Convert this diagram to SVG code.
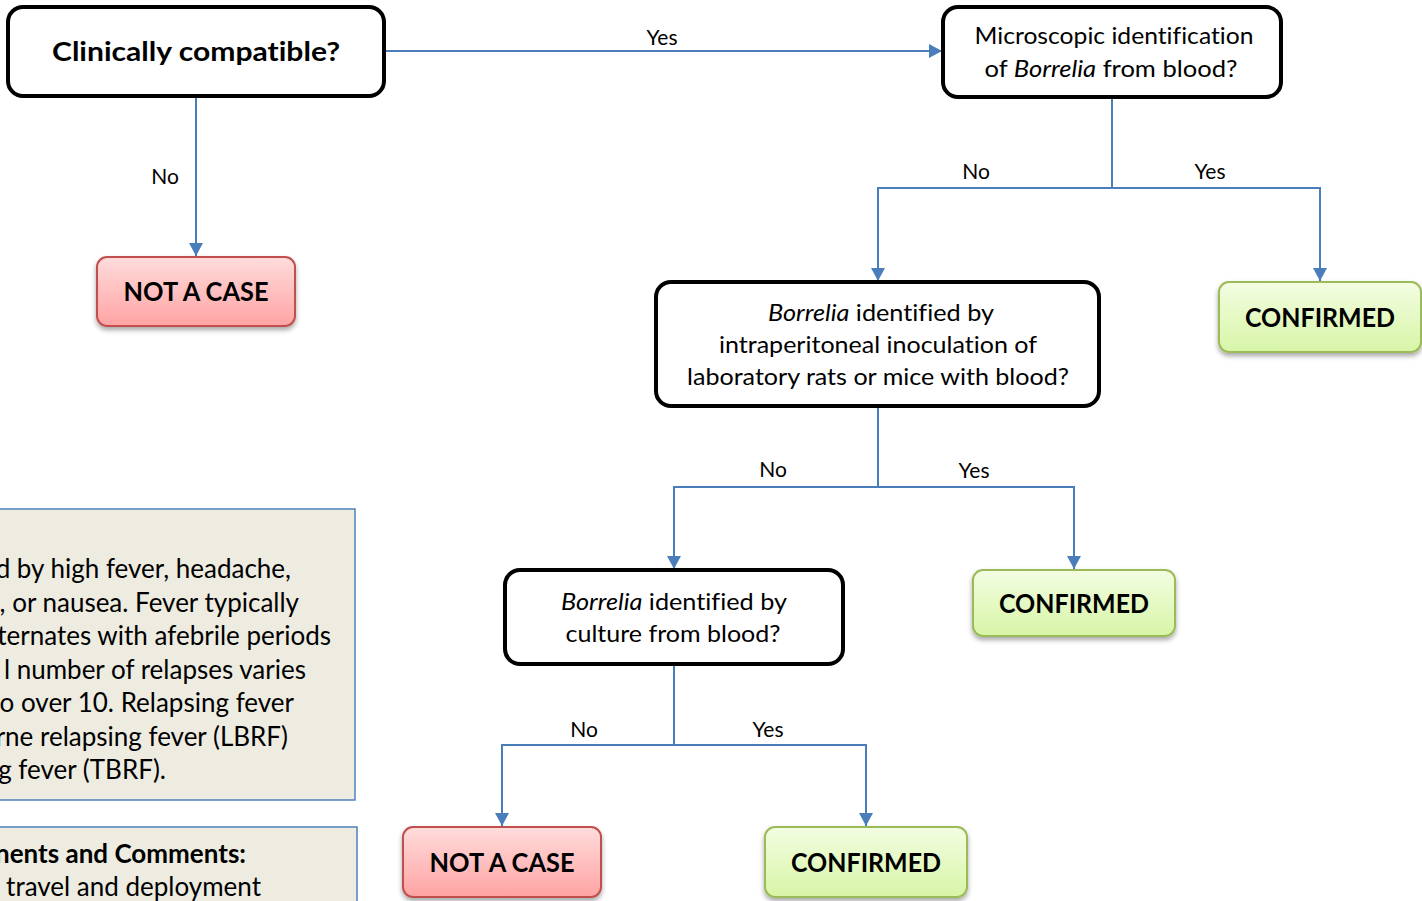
<svg xmlns="http://www.w3.org/2000/svg" width="1422" height="901" viewBox="0 0 1422 901">
<defs>
<linearGradient id="gRed" x1="0" y1="0" x2="0" y2="1"><stop offset="0" stop-color="#ffdcdc"/><stop offset="1" stop-color="#ffa3a3"/></linearGradient>
<linearGradient id="gGreen" x1="0" y1="0" x2="0" y2="1"><stop offset="0" stop-color="#f3fde2"/><stop offset="1" stop-color="#d7f5a6"/></linearGradient>
<filter id="sh" x="-10%" y="-10%" width="120%" height="140%"><feDropShadow dx="0" dy="3" stdDeviation="2.5" flood-color="#000" flood-opacity="0.35"/></filter>
<marker id="arr" markerUnits="userSpaceOnUse" markerWidth="14" markerHeight="14" refX="13" refY="7" orient="auto"><path d="M0,0 L13,7 L0,14 Z" fill="#4a7ebb"/></marker>
<style>
text{font-variant-ligatures:none}
.dec{fill:#fff;stroke:#000;stroke-width:4}
.nac{fill:url(#gRed);stroke:#c0504d;stroke-width:2;filter:url(#sh)}
.conf{fill:url(#gGreen);stroke:#9bbb59;stroke-width:2;filter:url(#sh)}
.box{fill:#eeece1;stroke:#4f81bd;stroke-width:1.5}
.t{font-family:Lato,"Noto Sans",sans-serif;font-size:23px;fill:#000;text-anchor:middle}
.tb{font-family:Lato,"Noto Sans",sans-serif;font-size:26px;font-weight:bold;fill:#000;text-anchor:middle}
.lbl{font-family:Lato,"Noto Sans",sans-serif;font-size:21px;fill:#000;text-anchor:middle}
.bt{font-family:Lato,"Noto Sans",sans-serif;font-size:26px;fill:#000;text-anchor:end}
.conn{fill:none;stroke:#4a7ebb;stroke-width:2;marker-end:url(#arr)}
</style>
</defs>
<g id="connectors">
<path class="conn" d="M384,51 H942"/>
<path class="conn" d="M196,96 V256"/>
<path class="conn" d="M1112,97 V188 H878 V281"/>
<path class="conn" d="M1112,188 H1320 V281"/>
<path class="conn" d="M878,406 V487 H674 V569"/>
<path class="conn" d="M878,487 H1074 V569"/>
<path class="conn" d="M674,664 V745 H502 V826"/>
<path class="conn" d="M674,745 H866 V826"/>
<text class="lbl" x="662" y="45">Yes</text>
<text class="lbl" x="165" y="184">No</text>
<text class="lbl" x="976" y="179">No</text>
<text class="lbl" x="1210" y="179">Yes</text>
<text class="lbl" x="773" y="477">No</text>
<text class="lbl" x="974" y="478">Yes</text>
<text class="lbl" x="584" y="737">No</text>
<text class="lbl" x="768" y="737">Yes</text>
</g>
<g id="n1">
<rect class="dec" x="8" y="7" width="376" height="89" rx="15"/>
<text class="tb" x="196" y="61" font-size="28" textLength="288" lengthAdjust="spacingAndGlyphs">Clinically compatible?</text>
</g>
<g id="n2">
<rect class="dec" x="943" y="7" width="338" height="90" rx="15"/>
<text class="t" x="1114" y="44" textLength="279" lengthAdjust="spacingAndGlyphs">Microscopic identification</text>
<text class="t" x="1111" y="77" textLength="253" lengthAdjust="spacingAndGlyphs">of <tspan font-style="italic">Borrelia</tspan> from blood?</text>
</g>
<g id="nac1">
<rect class="nac" x="97" y="257" width="198" height="69" rx="10"/>
<text class="tb" x="196" y="301" textLength="145" lengthAdjust="spacingAndGlyphs">NOT A CASE</text>
</g>
<g id="n3">
<rect class="dec" x="656" y="282" width="443" height="124" rx="15"/>
<text class="t" x="881" y="321" textLength="226" lengthAdjust="spacingAndGlyphs"><tspan font-style="italic">Borrelia</tspan> identified by</text>
<text class="t" x="878" y="353" textLength="318" lengthAdjust="spacingAndGlyphs">intraperitoneal inoculation of</text>
<text class="t" x="878" y="385" textLength="382" lengthAdjust="spacingAndGlyphs">laboratory rats or mice with blood?</text>
</g>
<g id="conf1">
<rect class="conf" x="1219" y="282" width="202" height="70" rx="10"/>
<text class="tb" x="1320" y="327" textLength="150" lengthAdjust="spacingAndGlyphs">CONFIRMED</text>
</g>
<g id="n4">
<rect class="dec" x="505" y="570" width="338" height="94" rx="15"/>
<text class="t" x="674" y="610" textLength="226" lengthAdjust="spacingAndGlyphs"><tspan font-style="italic">Borrelia</tspan> identified by</text>
<text class="t" x="673" y="642" textLength="215" lengthAdjust="spacingAndGlyphs">culture from blood?</text>
</g>
<g id="conf2">
<rect class="conf" x="973" y="570" width="202" height="66" rx="10"/>
<text class="tb" x="1074" y="613" textLength="150" lengthAdjust="spacingAndGlyphs">CONFIRMED</text>
</g>
<g id="nac2">
<rect class="nac" x="403" y="827" width="198" height="70" rx="10"/>
<text class="tb" x="502" y="872" textLength="145" lengthAdjust="spacingAndGlyphs">NOT A CASE</text>
</g>
<g id="conf3">
<rect class="conf" x="765" y="827" width="202" height="70" rx="10"/>
<text class="tb" x="866" y="872" textLength="150" lengthAdjust="spacingAndGlyphs">CONFIRMED</text>
</g>
<g id="desc">
<rect class="box" x="-5" y="509" width="360" height="291"/>
<text class="bt" x="291" y="578">d by high fever, headache,</text>
<text class="bt" x="299" y="612">, or nausea. Fever typically</text>
<text class="bt" x="331" y="645">ternates with afebrile periods</text>
<text class="bt" x="306" y="679">l number of relapses varies</text>
<text class="bt" x="294" y="712">o over 10. Relapsing fever</text>
<text class="bt" x="288" y="746">rne relapsing fever (LBRF)</text>
<text class="bt" x="166" y="779">g fever (TBRF).</text>
</g>
<g id="comments">
<rect class="box" x="-5" y="827" width="362" height="84"/>
<text class="bt" x="246" y="863" font-weight="bold">nents and Comments:</text>
<text class="bt" x="261" y="896">travel and deployment</text>
</g>
</svg>
